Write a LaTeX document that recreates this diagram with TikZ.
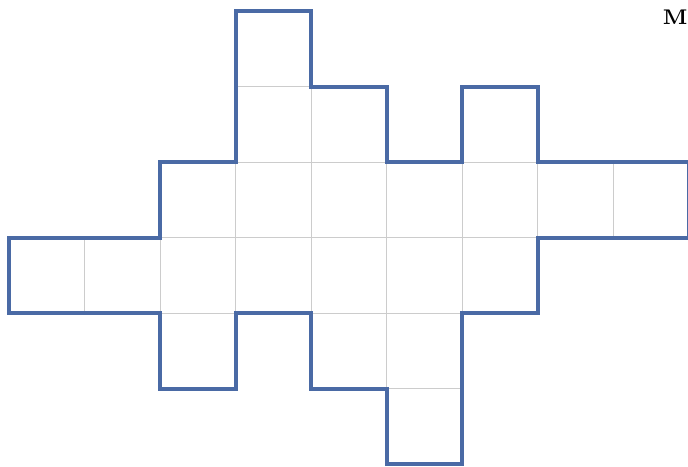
\documentclass[tikz,border=0pt]{standalone}
\usepackage{xcolor}
\definecolor{outlineblue}{HTML}{4A6AA5}
\definecolor{gridgray}{HTML}{CCCCCC}
\begin{document}
\begin{tikzpicture}[
    x=1cm, y=-1cm,
    cell/.style={draw=gridgray, line width=0.4pt},
    outline/.style={draw=outlineblue, line width=1.5pt, line join=miter},
    label/.style={font=\fontsize{8}{9}\selectfont}
]
    \useasboundingbox (-0.119,-0.146) rectangle (8.99,6.034);

    % cells (column/row)
    \foreach \c/\r in {3/0, 3/1,4/1,6/1,
                       2/2,3/2,4/2,5/2,6/2,7/2,8/2,
                       0/3,1/3,2/3,3/3,4/3,5/3,6/3,
                       2/4,4/4,5/4, 5/5}
        \draw[cell] (\c,\r) rectangle ++(1,1);

    % boundary of the figure
    \draw[outline] (3,0) -- (4,0) -- (4,1) -- (5,1) -- (5,2) -- (6,2) -- (6,1)
        -- (7,1) -- (7,2) -- (9,2) -- (9,3) -- (7,3) -- (7,4) -- (6,4) -- (6,6)
        -- (5,6) -- (5,5) -- (4,5) -- (4,4) -- (3,4) -- (3,5) -- (2,5) -- (2,4)
        -- (0,4) -- (0,3) -- (2,3) -- (2,2) -- (3,2) -- cycle;

    \node[label] (mark) at (8.82,0.08) {\textbf{M}};
\end{tikzpicture}
\end{document}
